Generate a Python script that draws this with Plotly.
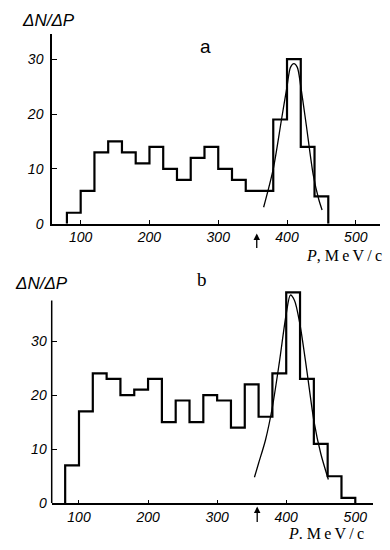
import plotly.graph_objects as go

# ---- data ----
edges_a = [80, 100, 120, 140, 160, 180, 200, 220, 240, 260, 280, 300, 320, 340,
           360, 380, 400, 420, 440, 460]
counts_a = [2, 6, 13, 15, 13, 11, 14, 10, 8, 12, 14, 10, 8, 6, 6, 19, 30, 14, 5]

edges_b = [80, 100, 120, 140, 160, 180, 200, 220, 240, 260, 280, 300, 320, 340,
           360, 380, 400, 420, 440, 460, 480, 500]
counts_b = [7, 17, 24, 23, 20, 21, 23, 15, 19, 15, 20, 19, 14, 22, 16, 24, 39, 23, 11, 5, 1]

fit_a_x = [366, 380, 392, 400, 405, 410, 415, 420, 428, 438, 446, 451]
fit_a_y = [3.0, 10.0, 19.0, 25.0, 28.5, 29.2, 28.5, 25.0, 18.0, 9.0, 4.5, 2.5]

fit_b_x = [354, 360, 370, 380, 390, 400, 406, 412, 420, 430, 440, 450, 461]
fit_b_y = [4.8, 7.4, 11.7, 17.8, 26.0, 35.0, 38.5, 37.5, 33.0, 24.4, 15.3, 9.2, 4.4]

x_ticks = [100, 200, 300, 400, 500]
y_ticks = [0, 10, 20, 30]
arrow_a = 356
arrow_b = 358


def step_xy(edges, counts):
    xs = [edges[0]] + edges[:-1] + [edges[-1]]
    ys = [0] + counts + [0]
    return xs, ys


fig = go.Figure()
xa, ya = step_xy(edges_a, counts_a)
xb, yb = step_xy(edges_b, counts_b)

fig.add_trace(go.Scatter(x=xa, y=ya, mode="lines", line=dict(shape="hv", color="black", width=2.2),
                         xaxis="x", yaxis="y", hoverinfo="skip"))
fig.add_trace(go.Scatter(x=fit_a_x, y=fit_a_y, mode="lines",
                         line=dict(shape="spline", smoothing=0.8, color="black", width=1.3),
                         xaxis="x", yaxis="y", hoverinfo="skip"))
fig.add_trace(go.Scatter(x=xb, y=yb, mode="lines", line=dict(shape="hv", color="black", width=2.2),
                         xaxis="x2", yaxis="y2", hoverinfo="skip"))
fig.add_trace(go.Scatter(x=fit_b_x, y=fit_b_y, mode="lines",
                         line=dict(shape="spline", smoothing=0.8, color="black", width=1.3),
                         xaxis="x2", yaxis="y2", hoverinfo="skip"))

tickfont = dict(family="Liberation Sans", size=14, color="black", style="italic")

common_x = dict(tickvals=x_ticks, ticks="inside", ticklen=4, tickwidth=1, tickcolor="black",
                showline=True, linecolor="black", linewidth=1.5, showgrid=False, zeroline=False,
                tickfont=tickfont, ticklabelstandoff=0)
common_y = dict(tickvals=y_ticks, ticks="inside", ticklen=5, tickwidth=1, tickcolor="black",
                showgrid=False, zeroline=False, tickfont=tickfont, ticklabelstandoff=4)

fig.update_layout(
    width=390, height=550,
    margin=dict(l=0, r=0, t=0, b=0),
    paper_bgcolor="white", plot_bgcolor="white",
    showlegend=False,
    xaxis=dict(domain=[52 / 390, 380 / 390], range=[58.3, 535.2], anchor="y", **common_x),
    yaxis=dict(domain=[323 / 550, 515 / 550], range=[0, 34.5], anchor="x",
               showline=True, linecolor="black", linewidth=1.5, **common_y),
    xaxis2=dict(domain=[51.7 / 390, 372.7 / 390], range=[60.5, 525.2], anchor="y2", **common_x),
    yaxis2=dict(domain=[39.3 / 550, 261.6 / 550], range=[0, 40.5], anchor="x2",
                showline=False, **common_y),
)

# y-axis line of panel b stops below the tallest bar
fig.add_shape(type="line", xref="x2 domain", yref="y2", x0=0, x1=0, y0=0, y1=37.5,
              line=dict(color="black", width=1.5))

lab_font = dict(family="Liberation Sans", size=17, color="black", style="italic")
ts = "\u2009"
unit = "M" + ts + "e" + ts + "V" + ts + "/" + ts + "c"


def label(x, y, text, font, xanchor="center"):
    fig.add_annotation(xref="paper", yref="paper", x=x / 390, y=1 - y / 550, text=text,
                       showarrow=False, font=font, xanchor=xanchor, yanchor="middle")


label(48, 21, "ΔN/ΔP", lab_font)
label(41, 288, "ΔN/ΔP", lab_font)
label(205, 47, "a", dict(family="Liberation Sans", size=19, color="black"))
label(202, 284, "b", dict(family="Liberation Serif", size=19, color="black"))
label(304, 259, "<i>P</i>, " + unit, dict(family="Liberation Serif", size=16, color="black"),
      xanchor="left")
label(286, 541, "<i>P</i>. " + unit, dict(family="Liberation Serif", size=16, color="black"),
      xanchor="left")

# arrows marking the threshold under the axes
fig.add_annotation(xref="x", yref="paper", x=arrow_a, y=1 - 237 / 550, ax=0, ay=16,
                   showarrow=True, arrowhead=2, arrowsize=1,
                   arrowwidth=1.3, arrowcolor="black", text="")
fig.add_annotation(xref="x2", yref="paper", x=arrow_b, y=1 - 514 / 550, ax=0, ay=17,
                   showarrow=True, arrowhead=2, arrowsize=1,
                   arrowwidth=1.3, arrowcolor="black", text="")

fig.write_html("out.html", config={"displayModeBar": False},
               post_script="document.body.style.margin='0px';")
